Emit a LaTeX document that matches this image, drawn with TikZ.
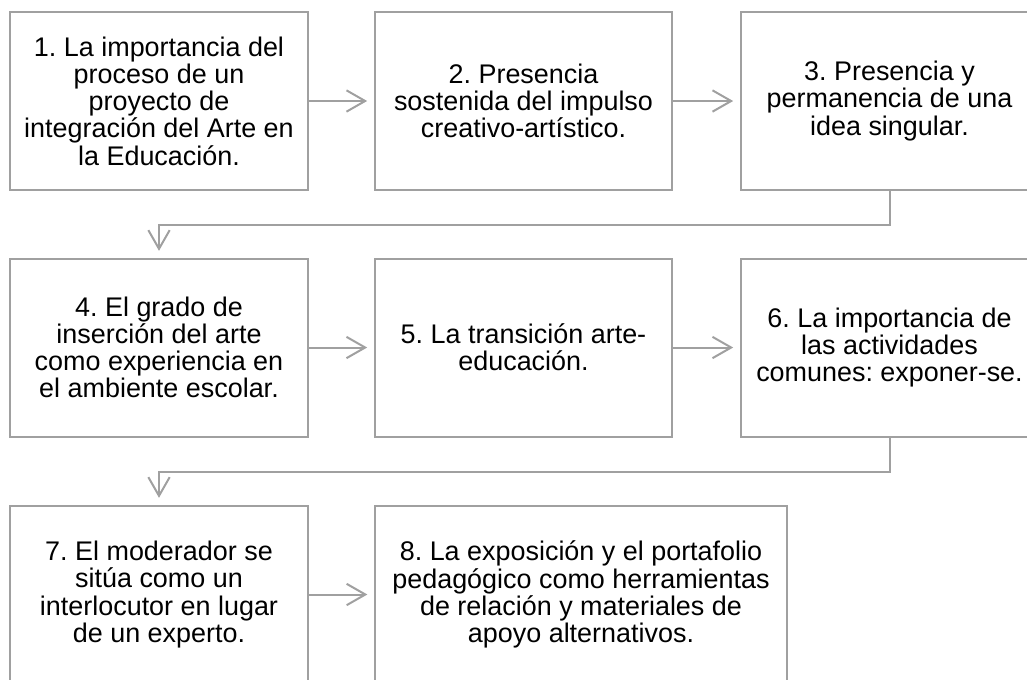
\documentclass[tikz,border=0pt]{standalone}
\usepackage{fontspec}
\setmainfont{Liberation Sans}
\usetikzlibrary{arrows.meta}
\definecolor{linegray}{HTML}{A0A0A0}
\tikzset{
  box/.style={draw=linegray, line width=1.5pt, rectangle, inner sep=0pt,
    minimum width=223pt, minimum height=133.5pt, align=center,
    font=\frenchspacing\fontsize{20.2}{20.4}\selectfont, text=black},
  conn/.style={draw=linegray, line width=1.5pt,
    -{Straight Barb[length=14pt,width=16pt,line width=1.5pt]}, shorten >=5pt}
}
\begin{document}
\frenchspacing
\begin{tikzpicture}[x=0.75pt,y=-0.75pt]
\useasboundingbox (0,0) rectangle (1027,679);
\node[box] (b1) at (159,101) {1. La importancia del\\proceso de un\\proyecto de\\integración del Arte en\\la Educación.};
\node[box] (b2) at (523.5,101) {2. Presencia\\sostenida del impulso\\creativo-artístico.};
\node[box] (b3) at (889.5,101) {3. Presencia y\\permanencia de una\\idea singular.};
\node[box] (b4) at (159,347.5) {4. El grado de\\inserción del arte\\como experiencia en\\el ambiente escolar.};
\node[box] (b5) at (523.5,347.5) {5. La transición arte-\\educación.};
\node[box] (b6) at (889.5,347.5) {6. La importancia de\\las actividades\\comunes: exponer-se.};
\node[box] (b7) at (159,594.5) {7. El moderador se\\sitúa como un\\interlocutor en lugar\\de un experto.};
\node[box, minimum width=309pt] (b8) at (581,594.5) {8. La exposición y el portafolio\\pedagógico como herramientas\\de relación y materiales de\\apoyo alternativos.};
\draw[conn] (b1) -- (b2);
\draw[conn] (b2) -- (b3);
\draw[conn] (b3.south) -- ++(0,34) -| (b4.north);
\draw[conn] (b4) -- (b5);
\draw[conn] (b5) -- (b6);
\draw[conn] (b6.south) -- ++(0,34) -| (b7.north);
\draw[conn] (b7.east) -- (b8.west);
\end{tikzpicture}
\end{document}
